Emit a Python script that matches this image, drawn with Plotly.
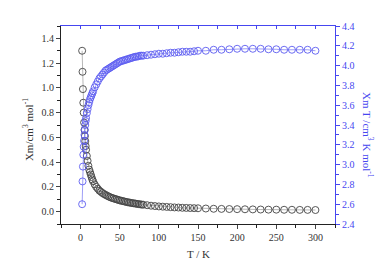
import plotly.graph_objects as go

T = [2, 2.5, 3, 3.5, 4, 4.5, 5, 5.5, 6, 6.5, 7, 8, 9, 10, 11, 12, 13, 14, 15, 16,
     18, 20, 22, 24, 26, 28, 30, 32, 34, 36, 38, 40, 42, 44, 46, 48, 50, 52, 54, 56,
     58, 60, 62, 64, 66, 68, 70, 72, 74, 76, 78, 80, 85, 90, 95, 100, 105, 110, 115, 120,
     125, 130, 135, 140, 145, 150, 160, 170, 180, 190, 200, 210, 220, 230, 240, 250, 260, 270, 280, 290, 300]

chi = [1.30, 1.13, 0.99, 0.88, 0.80, 0.72, 0.66, 0.61, 0.57, 0.53, 0.50, 0.45, 0.41, 0.37, 0.34, 0.32, 0.30, 0.28, 0.26, 0.245,
       0.22, 0.20, 0.185, 0.17, 0.16, 0.15, 0.142, 0.135, 0.128, 0.122, 0.116, 0.111, 0.107, 0.103, 0.099, 0.095, 0.091, 0.088, 0.085, 0.082,
       0.079, 0.076, 0.074, 0.071, 0.069, 0.067, 0.065, 0.063, 0.061, 0.059, 0.057, 0.056, 0.052, 0.048, 0.045, 0.042, 0.040, 0.038, 0.036, 0.034,
       0.033, 0.031, 0.030, 0.029, 0.028, 0.027, 0.025, 0.023, 0.022, 0.021, 0.020, 0.019, 0.018, 0.017, 0.016, 0.016, 0.015, 0.015, 0.014, 0.014, 0.013]

chiT = [2.60, 2.83, 2.98, 3.10, 3.18, 3.24, 3.30, 3.35, 3.40, 3.44, 3.47, 3.52, 3.56, 3.60, 3.63, 3.66, 3.68, 3.70, 3.72, 3.74,
        3.78, 3.81, 3.84, 3.87, 3.89, 3.91, 3.93, 3.95, 3.96, 3.97, 3.98, 3.99, 4.00, 4.01, 4.02, 4.03, 4.04, 4.045, 4.05, 4.055,
        4.06, 4.065, 4.07, 4.075, 4.08, 4.085, 4.09, 4.09, 4.095, 4.10, 4.10, 4.10, 4.105, 4.11, 4.115, 4.12, 4.12, 4.125, 4.13, 4.13,
        4.135, 4.14, 4.14, 4.14, 4.145, 4.15, 4.15, 4.16, 4.16, 4.165, 4.17, 4.17, 4.17, 4.17, 4.165, 4.165, 4.16, 4.16, 4.16, 4.16, 4.15]

x_ticks = [0, 50, 100, 150, 200, 250, 300]

BLUE = "#4646f0"
MBLUE = "#5c5cf0"
GREY = "#444444"
FONT = "Liberation Serif"

fig = go.Figure()
fig.add_trace(go.Scatter(
    x=T, y=chi, mode="lines+markers", xaxis="x", yaxis="y",
    line=dict(color="#888888", width=0.6),
    marker=dict(symbol="circle-open", size=7, color=GREY, line=dict(width=0.9)),
    showlegend=False))
fig.add_trace(go.Scatter(
    x=T, y=chiT, mode="lines+markers", xaxis="x2", yaxis="y2",
    line=dict(color=MBLUE, width=0.6),
    marker=dict(symbol="circle-open", size=7, color=MBLUE, line=dict(width=0.9)),
    showlegend=False))

xr = [-25, 325]
fig.update_layout(
    width=385, height=261,
    margin=dict(l=53, r=58, t=14, b=45),
    plot_bgcolor="white", paper_bgcolor="white",
    font=dict(family=FONT, size=10, color="#333333"),
    xaxis=dict(range=xr, tickvals=x_ticks, ticks="outside", ticklen=4, tickwidth=1,
               showline=True, linecolor="#222222", linewidth=1.2, showgrid=False, zeroline=False,
               tickfont=dict(size=10, color="#333333"),
               minor=dict(dtick=25, tick0=0, ticks="outside", ticklen=2.5, tickcolor="#222222")),
    xaxis2=dict(range=xr, overlaying="x", side="top", ticks="inside", ticklen=3, tickwidth=1,
                dtick=25, tick0=0, showticklabels=False, showline=True, linecolor=BLUE,
                tickcolor=BLUE, linewidth=1.2, showgrid=False, zeroline=False),
    yaxis=dict(range=[-0.1, 1.5], dtick=0.2, tick0=0, tickformat=".1f", ticks="outside", ticklen=4,
               showline=True, linecolor="#222222", linewidth=1.2, showgrid=False, zeroline=False,
               tickfont=dict(size=10, color="#333333"),
               minor=dict(dtick=0.1, ticks="outside", ticklen=2.5, tickcolor="#222222")),
    yaxis2=dict(range=[2.4, 4.4], dtick=0.2, tick0=2.4, tickformat=".1f", ticks="outside", ticklen=4,
                overlaying="y", side="right", anchor="x",
                showline=True, linecolor=BLUE, tickcolor=BLUE, linewidth=1.2, showgrid=False, zeroline=False,
                tickfont=dict(size=10, color=BLUE),
                minor=dict(dtick=0.1, ticks="outside", ticklen=2.5, tickcolor=BLUE)),
    annotations=[
        dict(text="T / K", xref="paper", yref="paper", x=0.5, y=-0.153, xanchor="center", yanchor="middle",
             showarrow=False, font=dict(family=FONT, size=11, color="#333333")),
        dict(text="Xm/cm<sup>3</sup> mol<sup>-1</sup>", xref="paper", yref="paper", x=-0.12, y=0.475,
             xanchor="center", yanchor="middle", textangle=-90, showarrow=False,
             font=dict(family=FONT, size=11, color="#333333")),
        dict(text="Xm T /cm<sup>3</sup> K mol<sup>-1</sup>", xref="paper", yref="paper", x=1.12, y=0.45,
             xanchor="center", yanchor="middle", textangle=90, showarrow=False,
             font=dict(family=FONT, size=11, color=BLUE)),
    ],
)

fig.write_html("out.html")
